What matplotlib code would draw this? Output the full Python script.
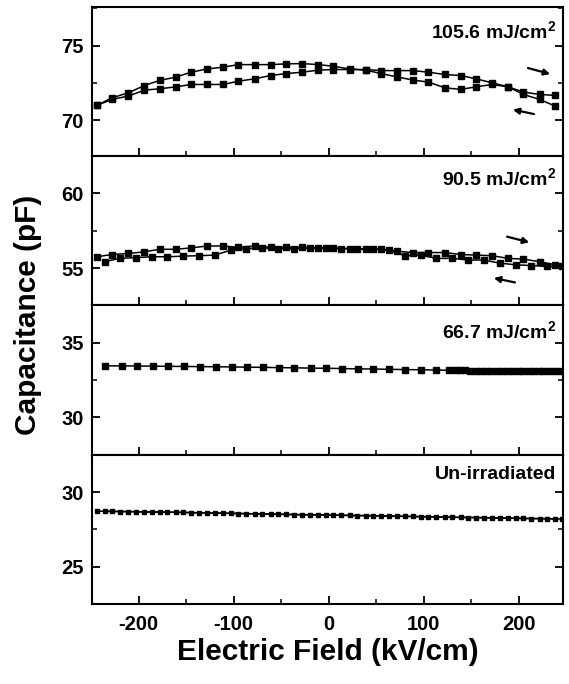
import matplotlib
matplotlib.use("Agg")
import matplotlib.pyplot as plt
from matplotlib.ticker import MultipleLocator

plt.rcParams['font.family'] = ['Liberation Sans', 'DejaVu Sans']
plt.rcParams['font.weight'] = 'bold'
plt.rcParams['axes.unicode_minus'] = False
plt.rcParams['mathtext.fontset'] = 'custom'
plt.rcParams['mathtext.rm'] = 'Liberation Sans:bold'
plt.rcParams['mathtext.bf'] = 'Liberation Sans:bold'

# ---------------- data ----------------
field_fwd = [-244, -228, -211, -194, -178, -161, -145, -128, -111, -95, -78, -61, -45, -28, -11,
             5, 22, 39, 55, 72, 89, 105, 122, 139, 155, 172, 189, 205, 222, 238]
field_rev = [-236, -220, -203, -186, -170, -153, -137, -120, -103, -87, -70, -53, -37, -20, -3,
             13, 30, 47, 63, 80, 97, 113, 130, 147, 163, 180, 197, 213, 230, 246]

# 105.6 mJ/cm2
cap_1056_a = [71.0, 71.51, 71.84, 72.33, 72.67, 72.89, 73.22, 73.44, 73.56, 73.73, 73.73, 73.73, 73.78, 73.8, 73.73,
              73.62, 73.44, 73.36, 73.13, 72.91, 72.69, 72.56, 72.18, 72.07, 72.24, 72.4, 72.24, 71.73, 71.4, 70.96]
cap_1056_b = [71.0, 71.4, 71.62, 72.02, 72.11, 72.24, 72.4, 72.4, 72.4, 72.62, 72.78, 73.0, 73.13, 73.22, 73.36,
              73.4, 73.4, 73.4, 73.33, 73.33, 73.33, 73.22, 73.07, 73.0, 72.78, 72.51, 72.24, 71.89, 71.73, 71.67]

# 90.5 mJ/cm2
cap_905_a = [55.76, 55.91, 55.98, 56.09, 56.26, 56.26, 56.35, 56.48, 56.48, 56.39, 56.48, 56.39, 56.39, 56.39, 56.35,
             56.35, 56.30, 56.26, 56.26, 56.13, 56.04, 56.04, 56.04, 55.91, 55.87, 55.83, 55.65, 55.60, 55.43, 55.22]
cap_905_b = [55.43, 55.65, 55.70, 55.76, 55.76, 55.80, 55.83, 55.87, 56.20, 56.30, 56.35, 56.30, 56.30, 56.35, 56.35,
             56.30, 56.30, 56.30, 56.20, 55.83, 55.87, 55.65, 55.65, 55.54, 55.54, 55.33, 55.22, 55.17, 55.11, 55.11]

# 66.7 mJ/cm2
field_667_sparse = [-235, -218, -202, -185, -169, -152, -135, -119, -102, -86, -69, -52, -36, -19, -3,
                    14, 31, 47, 64, 80, 97, 113]
cap_667_sparse = [33.45, 33.45, 33.44, 33.43, 33.42, 33.41, 33.40, 33.39, 33.38, 33.36, 33.35, 33.33, 33.32, 33.30,
                  33.29, 33.27, 33.25, 33.24, 33.22, 33.20, 33.19, 33.17]
field_667_dense = [127, 133, 138, 144, 149, 155, 160, 166, 171, 177, 182, 188, 193, 199, 204, 210, 215, 221,
                   226, 232, 237, 243]
cap_667_dense = [33.15, 33.15, 33.14, 33.14, 33.13, 33.13, 33.13, 33.12, 33.12, 33.12, 33.11, 33.11, 33.11, 33.10,
                 33.10, 33.10, 33.09, 33.09, 33.09, 33.08, 33.08, 33.08]

# Un-irradiated
cap_unirr_a = [28.72, 28.70, 28.69, 28.67, 28.66, 28.64, 28.62, 28.60, 28.58, 28.56, 28.54, 28.52, 28.50, 28.48, 28.47,
               28.45, 28.43, 28.42, 28.40, 28.38, 28.36, 28.34, 28.32, 28.30, 28.29, 28.27, 28.25, 28.23, 28.22, 28.20]
cap_unirr_b = [28.71, 28.69, 28.68, 28.66, 28.65, 28.63, 28.61, 28.59, 28.57, 28.55, 28.53, 28.51, 28.49, 28.47, 28.46,
               28.44, 28.42, 28.41, 28.39, 28.37, 28.35, 28.33, 28.31, 28.29, 28.28, 28.26, 28.24, 28.22, 28.21, 28.19]

labels = ['105.6 mJ/cm$^{2}$', '90.5 mJ/cm$^{2}$', '66.7 mJ/cm$^{2}$', 'Un-irradiated']
ylims = [(67.6, 77.6), (52.5, 62.5), (27.5, 37.5), (22.5, 32.5)]
yticks = [[70, 75], [55, 60], [30, 35], [25, 30]]
xticks = [-200, -100, 0, 100, 200]

# ---------------- figure ----------------
fig = plt.figure(figsize=(5.69, 6.84), dpi=100)
gs = fig.add_gridspec(4, 1, left=0.162, right=0.99, top=0.99, bottom=0.117, hspace=0)
axes = [fig.add_subplot(gs[i]) for i in range(4)]

mk = dict(color='black', marker='s', lw=1.1, markersize=4.5)

axes[0].plot(field_fwd, cap_1056_a, **mk)
axes[0].plot(field_fwd, cap_1056_b, **mk)
axes[1].plot(field_fwd, cap_905_a, **mk)
axes[1].plot(field_rev, cap_905_b, **mk)
axes[2].plot(field_667_sparse + field_667_dense, cap_667_sparse + cap_667_dense,
             color='black', marker='s', lw=1.1, markersize=3.8)
axes[3].plot(field_fwd, cap_unirr_a, color='black', marker='s', lw=1.1, markersize=3.4)
axes[3].plot(field_rev, cap_unirr_b, color='black', marker='s', lw=1.1, markersize=3.4)

# sweep-direction arrows
arrow = dict(arrowstyle='-|>', color='black', lw=1.6, mutation_scale=9)
axes[0].annotate('', xy=(236, 73.05), xytext=(207, 73.55), arrowprops=arrow)
axes[0].annotate('', xy=(191, 70.75), xytext=(219, 70.38), arrowprops=arrow)
axes[1].annotate('', xy=(214, 56.68), xytext=(185, 57.15), arrowprops=arrow)
axes[1].annotate('', xy=(171, 54.37), xytext=(199, 54.0), arrowprops=arrow)

label_y = [0.83, 0.845, 0.82, 0.87]
for i, ax in enumerate(axes):
    ax.set_xlim(-249, 247)
    ax.set_ylim(*ylims[i])
    ax.set_yticks(yticks[i])
    ax.yaxis.set_minor_locator(MultipleLocator(2.5))
    ax.set_xticks(xticks)
    ax.xaxis.set_minor_locator(MultipleLocator(50))
    ax.tick_params(axis='both', which='major', direction='in', length=6, width=1.3,
                   labelsize=14.5, pad=6, right=True, top=False)
    ax.tick_params(axis='both', which='minor', direction='in', length=3.5, width=1.1,
                   right=True, top=False)
    ax.tick_params(axis='x', which='major', pad=8)
    for s in ax.spines.values():
        s.set_linewidth(1.5)
    if i < 3:
        ax.tick_params(axis='x', labelbottom=False)
    for lab in ax.get_yticklabels() + ax.get_xticklabels():
        lab.set_fontweight('bold')
    ax.text(0.985, label_y[i], labels[i], transform=ax.transAxes, ha='right', va='center',
            fontsize=14, fontweight='bold')

axes[3].set_xlabel('Electric Field (kV/cm)', fontsize=21.5, fontweight='bold', labelpad=3)
fig.text(0.05, 0.54, 'Capacitance (pF)', rotation=90, ha='center', va='center',
         fontsize=21.5, fontweight='bold')

fig.savefig('out.png', dpi=100)
